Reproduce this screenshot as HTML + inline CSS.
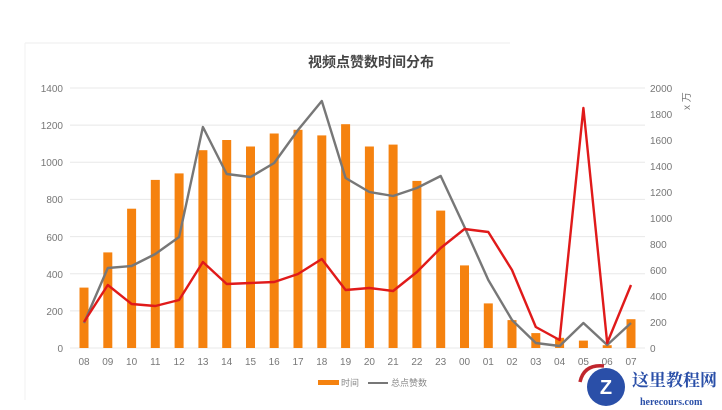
<!DOCTYPE html>
<html><head><meta charset="utf-8"><style>
html,body{margin:0;padding:0;background:#fff;}
svg{display:block;font-family:"Liberation Sans","Noto Sans CJK SC",sans-serif;}
</style></head><body>
<svg width="722" height="410" viewBox="0 0 722 410">
<rect x="0" y="0" width="722" height="410" fill="#fff"/>
<line x1="25" y1="43" x2="510" y2="43" stroke="#eee" stroke-width="1"/>
<line x1="25" y1="43" x2="25" y2="400" stroke="#f2f2f2" stroke-width="1"/>
<text x="371" y="67" text-anchor="middle" font-size="14" font-weight="bold" fill="#444">视频点赞数时间分布</text>
<g stroke="#e8e8e8" stroke-width="1">
<line x1="70" y1="348" x2="645" y2="348"/>
<line x1="70" y1="310.9" x2="645" y2="310.9"/>
<line x1="70" y1="273.7" x2="645" y2="273.7"/>
<line x1="70" y1="236.6" x2="645" y2="236.6"/>
<line x1="70" y1="199.4" x2="645" y2="199.4"/>
<line x1="70" y1="162.3" x2="645" y2="162.3"/>
<line x1="70" y1="125.1" x2="645" y2="125.1"/>
<line x1="70" y1="88" x2="645" y2="88"/>
</g>
<g font-size="10" fill="#777" text-anchor="end">
<text x="63" y="352">0</text><text x="63" y="315">200</text><text x="63" y="278">400</text>
<text x="63" y="241">600</text><text x="63" y="203">800</text><text x="63" y="166">1000</text>
<text x="63" y="129">1200</text><text x="63" y="92">1400</text>
</g>
<g font-size="10" fill="#777" text-anchor="start">
<text x="650" y="352">0</text><text x="650" y="326">200</text><text x="650" y="300">400</text>
<text x="650" y="274">600</text><text x="650" y="248">800</text><text x="650" y="222">1000</text>
<text x="650" y="196">1200</text><text x="650" y="170">1400</text><text x="650" y="144">1600</text>
<text x="650" y="118">1800</text><text x="650" y="92">2000</text>
</g>
<text x="0" y="0" font-size="10" fill="#777" transform="translate(690,110) rotate(-90)">x 万</text>
<g fill="#f5820f">
<rect x="79.5" y="287.6" width="9" height="60.4"/>
<rect x="103.3" y="252.4" width="9" height="95.6"/>
<rect x="127.1" y="208.7" width="9" height="139.3"/>
<rect x="150.8" y="179.9" width="9" height="168.1"/>
<rect x="174.6" y="173.4" width="9" height="174.6"/>
<rect x="198.4" y="150.2" width="9" height="197.8"/>
<rect x="222.2" y="140" width="9" height="208"/>
<rect x="246" y="146.5" width="9" height="201.5"/>
<rect x="269.7" y="133.5" width="9" height="214.5"/>
<rect x="293.5" y="129.8" width="9" height="218.2"/>
<rect x="317.3" y="135.4" width="9" height="212.6"/>
<rect x="341.1" y="124.2" width="9" height="223.8"/>
<rect x="364.9" y="146.5" width="9" height="201.5"/>
<rect x="388.6" y="144.6" width="9" height="203.4"/>
<rect x="412.4" y="180.9" width="9" height="167.1"/>
<rect x="436.2" y="210.6" width="9" height="137.4"/>
<rect x="460" y="265.4" width="9" height="82.6"/>
<rect x="483.8" y="303.4" width="9" height="44.6"/>
<rect x="507.5" y="320.1" width="9" height="27.9"/>
<rect x="531.3" y="333.1" width="9" height="14.9"/>
<rect x="555.1" y="337.8" width="9" height="10.2"/>
<rect x="578.9" y="340.6" width="9" height="7.4"/>
<rect x="602.7" y="345.2" width="9" height="2.8"/>
<rect x="626.5" y="319.2" width="9" height="28.8"/>
</g>
<polyline fill="none" stroke="#777" stroke-width="2.4" stroke-linejoin="round" points="84,323 107.8,268 131.6,266 155.3,254 179.1,237 202.9,127 226.7,174 250.5,177 274.2,163 298,130 321.8,101 345.6,178 369.4,192 393.1,196 416.9,188 440.7,176 464.5,227 488.3,280 512,320 535.8,343 559.6,346 583.4,323 607.2,345 631,323"/>
<polyline fill="none" stroke="#e01a1a" stroke-width="2.4" stroke-linejoin="round" points="84,322 107.8,285 131.6,304 155.3,306 179.1,300 202.9,262 226.7,284 250.5,283 274.2,282 298,274 321.8,259 345.6,290 369.4,288 393.1,291 416.9,272 440.7,248 464.5,229 488.3,232 512,270 535.8,327 559.6,340 583.4,108 607.2,343 631,285"/>
<g font-size="10" fill="#777" text-anchor="middle">
<text x="84" y="365">08</text><text x="107.8" y="365">09</text><text x="131.6" y="365">10</text>
<text x="155.3" y="365">11</text><text x="179.1" y="365">12</text><text x="202.9" y="365">13</text>
<text x="226.7" y="365">14</text><text x="250.5" y="365">15</text><text x="274.2" y="365">16</text>
<text x="298" y="365">17</text><text x="321.8" y="365">18</text><text x="345.6" y="365">19</text>
<text x="369.4" y="365">20</text><text x="393.1" y="365">21</text><text x="416.9" y="365">22</text>
<text x="440.7" y="365">23</text><text x="464.5" y="365">00</text><text x="488.3" y="365">01</text>
<text x="512" y="365">02</text><text x="535.8" y="365">03</text><text x="559.6" y="365">04</text>
<text x="583.4" y="365">05</text><text x="607.2" y="365">06</text><text x="631" y="365">07</text>
</g>
<rect x="318" y="380" width="21" height="5" fill="#f5820f"/>
<text x="341" y="386" font-size="9" fill="#888">时间</text>
<line x1="368" y1="383" x2="388" y2="383" stroke="#777" stroke-width="2"/>
<text x="391" y="386" font-size="9" fill="#888">总点赞数</text>
<circle cx="606" cy="387" r="19" fill="#2a4fa8"/>
<path d="M580 382 Q584 364 604 366" fill="none" stroke="#c0262d" stroke-width="3.5"/>
<text x="606" y="394" font-size="20" font-weight="bold" fill="#fff" text-anchor="middle">Z</text>
<text x="632" y="386" font-size="17" font-weight="bold" fill="#2a4fa8" font-family="Noto Serif CJK SC, serif">这里教程网</text>
<text x="640" y="405" font-size="10" font-weight="bold" fill="#2a4fa8" font-family="Liberation Serif, serif">herecours.com</text>
</svg>
</body></html>
